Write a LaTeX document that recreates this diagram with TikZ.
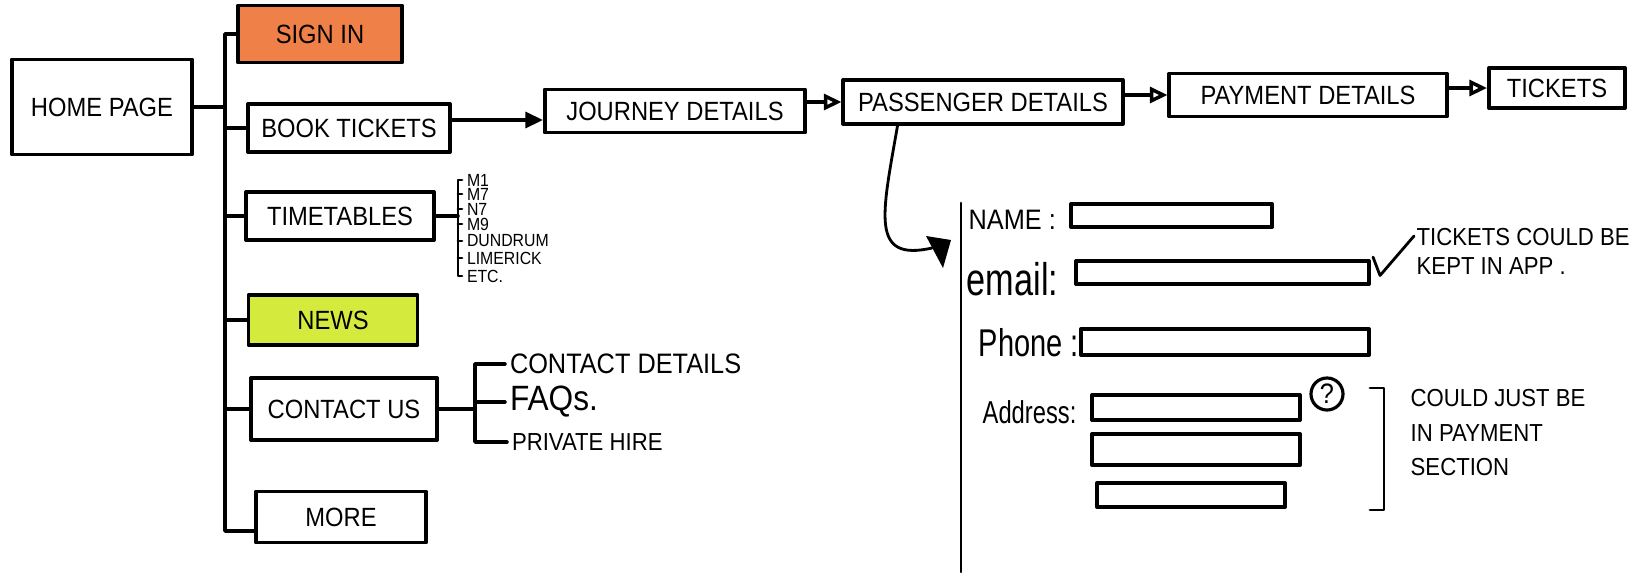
\documentclass[tikz,border=0pt]{standalone}
\usepackage{fontspec}
\setmainfont{Liberation Sans}[FakeStretch=0.9]
\newfontfamily\handw{Liberation Sans}[FakeStretch=0.75]
\usetikzlibrary{arrows.meta,calc}
\definecolor{signorange}{HTML}{EF8048}
\definecolor{newsgreen}{HTML}{D4EA3C}
\newcommand\fs[2]{\fontsize{#1}{#2}\selectfont}
\begin{document}
\begin{tikzpicture}[x=0.01cm,y=-0.01cm,
  line cap=round, line join=round,
  box/.style={draw=black, line width=1.1pt, inner sep=0pt, font=\fs{7.5}{9}},
  field/.style={draw=black, line width=1.1pt, inner sep=0pt},
  conn/.style={draw=black, line width=1pt},
  thin/.style={draw=black, line width=0.8pt},
  lbl/.style={inner sep=0pt, anchor=west},
  item/.style={inner sep=0pt, outer sep=0.05cm, anchor=west},
  ]
\fill[white] (0,0) rectangle (1638,572);
\useasboundingbox (0,0) rectangle (1638,572);

% main menu
\node[box, minimum width=1.80cm, minimum height=0.95cm] (home) at (102,107) {HOME PAGE};
\node[box, fill=signorange, minimum width=1.64cm, minimum height=0.57cm] (signin) at (320,34) {SIGN IN};
\node[box, minimum width=2.02cm, minimum height=0.48cm] (book) at (349,128) {BOOK TICKETS};
\node[box, minimum width=1.88cm, minimum height=0.48cm] (tt) at (340,216) {TIMETABLES};
\node[box, fill=newsgreen, minimum width=1.69cm, minimum height=0.50cm] (news) at (333,320) {NEWS};
\node[box, minimum width=1.86cm, minimum height=0.62cm] (contact) at (344,409) {CONTACT US};
\node[box, minimum width=1.70cm, minimum height=0.51cm] (more) at (341,517) {MORE};

\coordinate (trk) at (225,0);
\draw[conn] (home.east) -- (home.east -| trk);
\draw[conn] (signin.west) -- (signin.west -| trk) |- ($(more.west)+(0,14)$);
\foreach \b in {book,tt,news,contact} \draw[conn] (\b.west) -- (\b.west -| trk);

% timetables list
\node[item, font=\fs{5}{5}] (m1) at (462,180) {M1};
\node[item, font=\fs{5}{5}] (m7) at (462,194) {M7};
\node[item, font=\fs{5}{5}] (n7) at (462,209) {N7};
\node[item, font=\fs{5}{5}] (m9) at (462,224) {M9};
\node[item, font=\fs{5}{5}] (dun) at (462,241) {DUNDRUM};
\node[item, font=\fs{5}{5}] (lim) at (462,258) {LIMERICK};
\node[item, font=\fs{5}{5}] (etc) at (462,276) {ETC.};
\coordinate (tbr) at (458,0);
\draw[thin] (m1.west) -- (m1.west -| tbr) |- (etc.west);
\foreach \n in {m7,n7,m9,dun,lim} \draw[thin] (\n.west) -- (\n.west -| tbr);
\draw[conn] (tt.east) -- (tt.east -| tbr);

% contact list
\node[item, font=\fs{8}{8}] (cd) at (505,364) {CONTACT DETAILS};
\node[item, font=\fs{10}{10}] (faq) at (505,402) {FAQs.};
\node[item, font=\fs{7}{7}] (ph) at (507,442) {PRIVATE HIRE};
\coordinate (cbr) at (475,0);
\draw[conn] (cd.west) -- (cd.west -| cbr) |- (ph.west);
\draw[conn] (faq.west) -- (faq.west -| cbr);
\draw[conn] (contact.east) -- (contact.east -| cbr);

% booking flow
\node[box, minimum width=2.60cm, minimum height=0.43cm] (journey) at (675,111) {JOURNEY DETAILS};
\node[box, minimum width=2.79cm, minimum height=0.44cm] (pass) at (983,102) {PASSENGER DETAILS};
\node[box, minimum width=2.77cm, minimum height=0.43cm] (pay) at (1308,95) {PAYMENT DETAILS};
\node[box, minimum width=1.36cm, minimum height=0.40cm] (tickets) at (1557,88) {TICKETS};

\draw[conn, -{Triangle[length=5pt,width=4.5pt]}] ($(book.east)+(0,-8)$) -- ($(journey.west)+(0,9)$);
\draw[conn, -{Triangle[open,length=5pt,width=4.5pt]}] (journey.east |- pass.west) -- (pass.west);
\draw[conn, -{Triangle[open,length=5pt,width=4.5pt]}] (pass.east |- pay.west) -- (pay.west);
\draw[conn, -{Triangle[open,length=5pt,width=4.5pt]}] (pay.east |- tickets.west) -- (tickets.west);

% passenger form
\coordinate (formin) at (932,248);
\draw[thin] ($(pass.south west)+(56,0)$) .. controls (882,215) and (870,262) .. (formin);
\fill[black] (926,236) -- (951,240) -- (943,268) -- cycle;
\coordinate (ftop) at (961,203);
\coordinate (fbot) at (961,572);
\draw[thin] (ftop) -- (fbot);

\node[lbl, font=\fs{8}{8}] (lname) at (968,220) {NAME :};
\node[lbl, font=\handw\fs{13}{13}] (lemail) at (966,279) {email:};
\node[lbl, font=\handw\fs{11}{11}] (lphone) at (978,343) {Phone :};
\node[lbl, font=\handw\fs{9}{9}] (laddr) at (982,412) {Address:};

\node[field, minimum width=2.01cm, minimum height=0.23cm] (nfield) at (1171.5,215.5) {};
\node[field, minimum width=2.93cm, minimum height=0.23cm] (efield) at (1222.5,272.5) {};
\node[field, minimum width=2.88cm, minimum height=0.26cm] (pfield) at (1225,342) {};
\node[field, minimum width=2.08cm, minimum height=0.25cm] (a1) at (1196,407.5) {};
\node[field, minimum width=2.08cm, minimum height=0.31cm] (a2) at (1196,449.5) {};
\node[field, minimum width=1.88cm, minimum height=0.24cm] (a3) at (1191,495) {};

\node[circle, draw, line width=0.9pt, minimum size=0.32cm, inner sep=0pt, font=\fs{8}{8}] (q) at (1327,394) {?};

\node[anchor=north west, align=left, inner sep=0pt, font=\fs{7}{8}] (tnote) at (1416,228) {TICKETS COULD BE\\KEPT IN APP .};
\draw[thin] ($(efield.north east)+(2,-2)$) -- ($(efield.east)+(9,3)$) -- ($(tnote.north west)+(-2,8)$);

\node[anchor=north west, align=left, inner sep=0pt, font=\fs{7}{9.7}] (anote) at (1410,389) {COULD JUST BE\\IN PAYMENT\\SECTION};
\coordinate (brt) at (1384,388);
\coordinate (brb) at (1384,510);
\draw[thin] ($(brt)+(-14,0)$) -- (brt) -- (brb) -- ++(-14,0);
\end{tikzpicture}
\end{document}
